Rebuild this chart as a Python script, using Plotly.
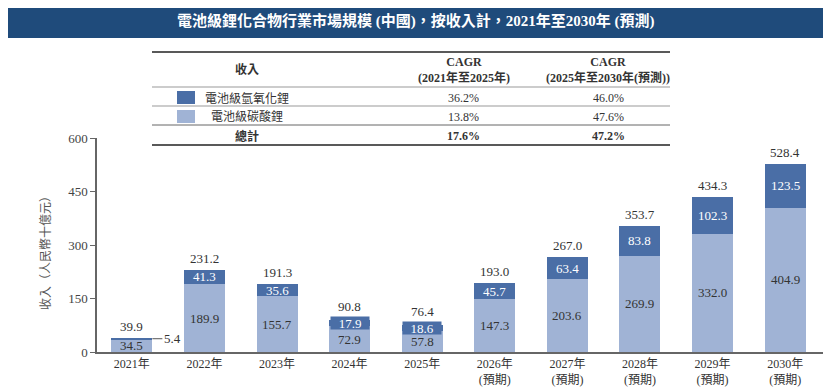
import plotly.graph_objects as go

years = ["2021年", "2022年", "2023年", "2024年", "2025年",
         "2026年<br>(預期)", "2027年<br>(預期)", "2028年<br>(預期)", "2029年<br>(預期)", "2030年<br>(預期)"]
hydroxide = [5.4, 41.3, 35.6, 17.9, 18.6, 45.7, 63.4, 83.8, 102.3, 123.5]
carbonate = [34.5, 189.9, 155.7, 72.9, 57.8, 147.3, 203.6, 269.9, 332.0, 404.9]
totals = [39.9, 231.2, 191.3, 90.8, 76.4, 193.0, 267.0, 353.7, 434.3, 528.4]
y_ticks = [0, 150, 300, 450, 600]

table_rows = ["電池級氫氧化鋰", "電池級碳酸鋰", "總計"]
cagr_21_25 = ["36.2%", "13.8%", "17.6%"]
cagr_25_30 = ["46.0%", "47.6%", "47.2%"]

DARK = "#4a6ea6"
LIGHT = "#a0b3d5"
TITLE_BG = "#1f4b7b"
SERIF = "Liberation Serif, Noto Sans CJK TC, serif"
TXT = "#333333"

# page has an 8px body margin: figure drawn from (8,8)
OFF = 8
W, H = 831 - OFF, 389 - OFF
# plot area in page pixels
PL, PR, PT, PB = 97, 828, 138, 352


def px(x):
    return (x - PL) / (PR - PL)


def py(y):
    return (PB - y) / (PB - PT)


xs = list(range(len(years)))
BW = 0.565

fig = go.Figure()
fig.add_trace(go.Bar(x=xs, y=carbonate, marker=dict(color=LIGHT, line=dict(width=0)),
                     width=BW, name="電池級碳酸鋰", hoverinfo="y"))
fig.add_trace(go.Bar(x=xs, y=hydroxide, marker=dict(color=DARK, line=dict(width=0)),
                     width=BW, name="電池級氫氧化鋰", hoverinfo="y"))

ann = []
shapes = []

# bar labels
for i in xs:
    c, h, t = carbonate[i], hydroxide[i], totals[i]
    boxed = 10 <= h < 25
    ann.append(dict(x=i, y=c + h, xref="x", yref="y", text=f"{t:.1f}", showarrow=False,
                    xanchor="center", yanchor="bottom", yshift=4 if boxed else 2,
                    font=dict(family=SERIF, size=13, color=TXT)))
    ann.append(dict(x=i, y=c / 2, xref="x", yref="y", text=f"{c:.1f}", showarrow=False,
                    xanchor="center", yanchor="middle",
                    font=dict(family=SERIF, size=13, color=TXT)))
    if h < 10:
        ann.append(dict(x=i + BW / 2, y=c + h / 2, xref="x", yref="y", text=f"{h:.1f}",
                        showarrow=True, arrowhead=0, arrowwidth=1, arrowcolor="#555",
                        ax=20, ay=0, standoff=0, font=dict(family=SERIF, size=13, color=TXT)))
    elif boxed:
        ann.append(dict(x=i, y=c + h / 2, xref="x", yref="y", text=f"{h:.1f}", showarrow=False,
                        xanchor="center", yanchor="middle",
                        bgcolor=DARK, borderpad=0, width=38, height=12,
                        font=dict(family=SERIF, size=13, color="white")))
    else:
        ann.append(dict(x=i, y=c + h / 2, xref="x", yref="y", text=f"{h:.1f}", showarrow=False,
                        xanchor="center", yanchor="middle",
                        font=dict(family=SERIF, size=13, color="white")))


def pann(x, y, text, font, **kw):
    d = dict(xref="paper", yref="paper", x=px(x), y=py(y), text=text, showarrow=False,
             xanchor="center", yanchor="middle", font=font)
    d.update(kw)
    ann.append(d)


# title bar
shapes.append(dict(type="rect", xref="paper", yref="paper", x0=px(5), x1=px(826), y0=py(38), y1=py(5),
                   fillcolor=TITLE_BG, line=dict(width=0), layer="below"))
pann(415, 21, "<b>電池級鋰化合物行業市場規模 (中國)，按收入計，2021年至2030年 (預測)</b>",
     dict(family=SERIF, size=15, color="white"))

# table lines
for yy, col, wd in [(52, "#222", 1.6), (87, "#999", 1), (106, "#999", 1), (125, "#666", 1), (145, "#222", 1.6)]:
    shapes.append(dict(type="line", xref="paper", yref="paper", x0=px(152), x1=px(670),
                       y0=py(yy), y1=py(yy), line=dict(color=col, width=wd)))
# legend squares
shapes.append(dict(type="rect", xref="paper", yref="paper", x0=px(177), x1=px(195), y0=py(104), y1=py(91),
                   fillcolor=DARK, line=dict(width=0)))
shapes.append(dict(type="rect", xref="paper", yref="paper", x0=px(177), x1=px(195), y0=py(123), y1=py(110),
                   fillcolor=LIGHT, line=dict(width=0)))

fnt = dict(family=SERIF, size=12, color=TXT)
pann(247, 70, "<b>收入</b>", fnt)
pann(464, 70, "<b>CAGR<br>(2021年至2025年)</b>", fnt)
pann(608, 70, "<b>CAGR<br>(2025年至2030年(預測))</b>", fnt)
row_y = [98, 117, 136]
for k in range(3):
    wrap = (lambda s: f"<b>{s}</b>") if k == 2 else (lambda s: s)
    pann(247, row_y[k], wrap(table_rows[k]), fnt)
    pann(464, row_y[k], wrap(cagr_21_25[k]), fnt)
    pann(608, row_y[k], wrap(cagr_25_30[k]), fnt)

# y axis title
pann(46, 250, "收入（人民幣十億元）", dict(family=SERIF, size=12, color="#555"), textangle=-90)

fig.update_layout(
    width=W, height=H,
    margin=dict(l=PL - OFF, r=W - (PR - OFF), t=PT - OFF, b=H - (PB - OFF), pad=0),
    barmode="stack", bargap=0.4,
    showlegend=False,
    plot_bgcolor="white", paper_bgcolor="white",
    annotations=ann, shapes=shapes,
    xaxis=dict(tickvals=xs, ticktext=years, range=[-0.48, 9.59], showgrid=False, zeroline=False,
               showline=True, linecolor="#666", linewidth=1.5, ticks="",
               tickfont=dict(family=SERIF, size=12, color=TXT)),
    yaxis=dict(range=[0, 600], tickvals=y_ticks, showgrid=False, zeroline=False,
               showline=True, linecolor="#666", linewidth=1.5, ticks="outside", ticklen=5,
               tickcolor="#666", tickfont=dict(family=SERIF, size=13, color="#444")),
)

fig.write_html("out.html")
